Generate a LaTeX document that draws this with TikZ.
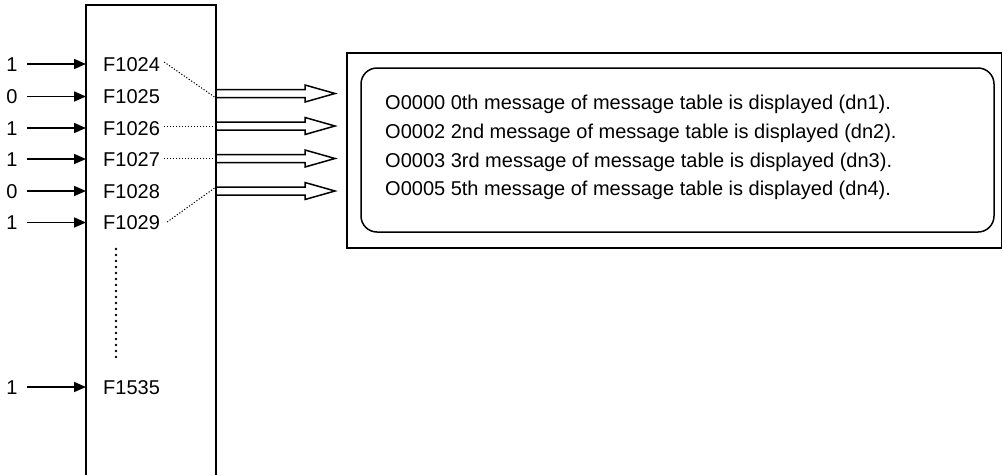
\documentclass[tikz,border=0pt]{standalone}
\usepackage{fontspec}
\setmainfont{Liberation Sans}
\usetikzlibrary{arrows.meta}
\begin{document}
\begin{tikzpicture}[x=1pt,y=-1pt,
  txt/.style={font=\fontsize{20}{24}\selectfont, inner sep=0pt},
  lbl/.style={txt, anchor=base west},
  val/.style={txt, anchor=base},
  inarrow/.style={line width=1.6pt, -{Triangle[length=12pt,width=10pt]}},
  frame/.style={line width=1.5pt},
  hollow/.style={line width=1.5pt, line join=miter},
  dotline/.style={line width=1pt, dash pattern=on 1.2pt off 1.8pt},
  vdots/.style={line width=2.8pt, line cap=round, dash pattern=on 0pt off 6pt}]
\useasboundingbox (0,0) rectangle (1003,474);

% tall register box (open at the bottom)
\draw[frame] (86,476) -- (86,5) -- (216,5) -- (216,476);
\coordinate (boxL) at (86,0);
\coordinate (boxR) at (216,0);

% F signal labels and input values
\foreach \name/\v/\y in {f1024/1/64, f1025/0/96.5, f1026/1/128, f1027/1/159, f1028/0/191, f1029/1/222.5, f1535/1/387}{
  \node[lbl] (\name) at (103,\y+7.2) {\expandafter\MakeUppercase\expandafter{\name}};
  \node[val] (v\name) at (12,\y+7.2) {\v};
  \coordinate (in\name) at (27,\y);
  \draw[inarrow] (in\name) -- (in\name -| boxL);
}

% vertical dots
\coordinate (d1) at (116,249);
\coordinate (d2) at (116,360);
\draw[vdots] (d1) -- (d2);

% hollow arrows
\foreach \i/\y in {1/93.5, 2/126, 3/158.5, 4/191}{
  \coordinate (h\i) at (216,\y);
  \draw[hollow] (h\i) ++(0,-4) -- ++(89,0) -- ++(0,-4.5) -- ++(30,8.5)
     -- ++(-30,8.5) -- ++(0,-4.5) -- ++(-89,0);
}

% dotted leaders
\draw[dotline] ([xshift=4pt]f1024.east |- 0,62) -- ([yshift=-4.5pt]h1);
\draw[dotline] ([xshift=4pt]f1026.east |- h2) -- (h2);
\draw[dotline] ([xshift=4pt]f1027.east |- h3) -- (h3);
\draw[dotline] ([xshift=7pt]f1029.east |- 0,222) -- ([yshift=4pt]h4);

% display frame and message panel
\draw[frame, line width=1.3pt] (347,53) rectangle (1001.5,248);
\draw[frame, rounded corners=16pt] (361,68) rectangle (994,232);

\node[lbl] (m1) at (385,109.2) {O0000 0th message of message table is displayed (dn1).};
\node[lbl] (m2) at (385,138.2) {O0002 2nd message of message table is displayed (dn2).};
\node[lbl] (m3) at (385,167.2) {O0003 3rd message of message table is displayed (dn3).};
\node[lbl] (m4) at (385,195.2) {O0005 5th message of message table is displayed (dn4).};
\end{tikzpicture}
\end{document}
